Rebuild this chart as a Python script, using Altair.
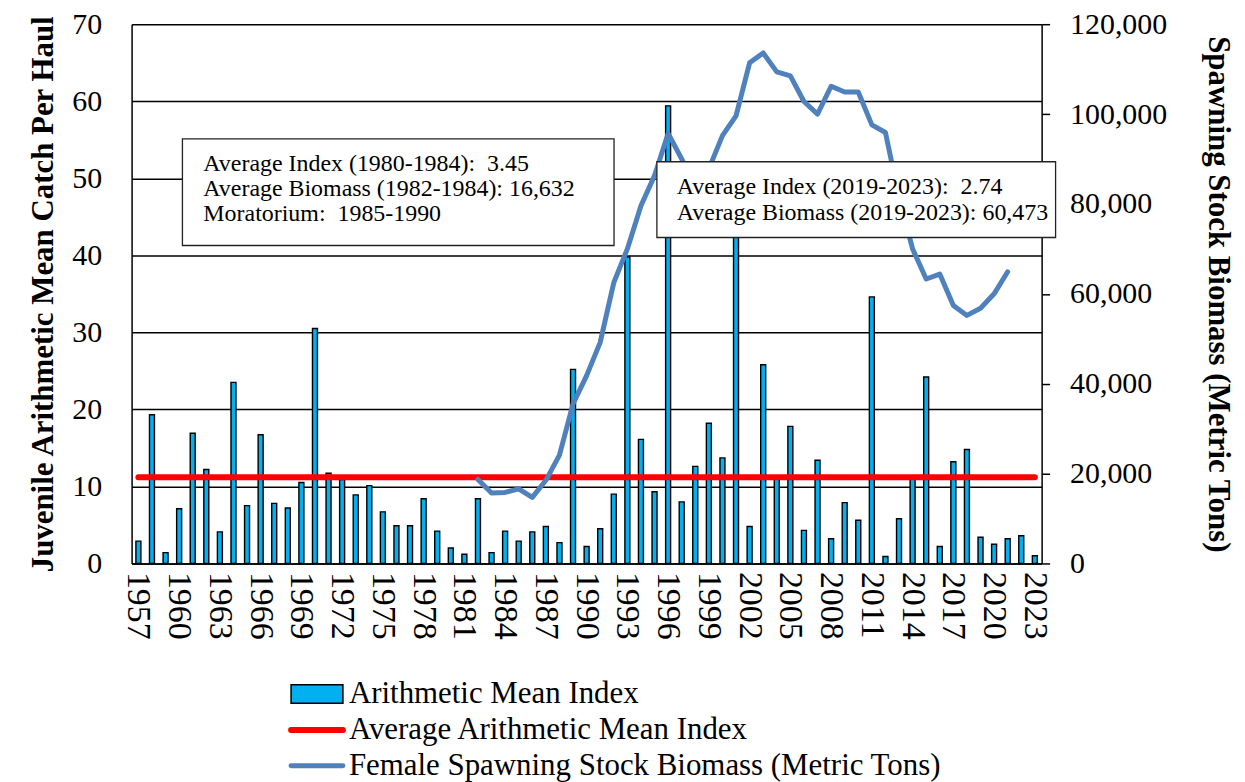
import altair as alt
import pandas as pd

# ---------------- data ----------------
years = list(range(1957, 2024))
index_values = [
    2.9, 19.3, 1.4, 7.1, 16.9, 12.2, 4.1, 23.5, 7.5, 16.7,   # 1957-1966
    7.8, 7.2, 10.5, 30.5, 11.7, 10.9, 8.9, 10.1, 6.7, 4.9,   # 1967-1976
    4.9, 8.4, 4.2, 2.0, 1.2, 8.4, 1.4, 4.2, 2.9, 4.1,        # 1977-1986
    4.8, 2.7, 25.2, 2.2, 4.5, 9.0, 39.8, 16.1, 9.3, 59.4,    # 1987-1996
    8.0, 12.6, 18.2, 13.7, 50.8, 4.8, 25.8, 11.1, 17.8, 4.3, # 1997-2006
    13.4, 3.2, 7.9, 5.6, 34.6, 0.9, 5.8, 11.0, 24.2, 2.2,    # 2007-2016
    13.2, 14.8, 3.4, 2.5, 3.2, 3.6, 1.0,                      # 2017-2023
]
avg_index = 11.2

biomass_years = list(range(1982, 2022))
biomass_values = [
    18700, 15700, 15800, 16600, 14700, 18500, 24100, 35500, 41800, 49200,   # 1982-1991
    62500, 70000, 79600, 86300, 95700, 90000, 84000, 87800, 95200, 99600,   # 1992-2001
    111400, 113600, 109400, 108500, 102800, 100000, 106200, 104900, 104900, 97600,  # 2002-2011
    95900, 81500, 70000, 63300, 64400, 57400, 55200, 56800, 60000, 64900,   # 2012-2021
]

legend_labels = [
    "Arithmetic Mean Index",
    "Average Arithmetic Mean Index",
    "Female Spawning Stock Biomass (Metric Tons)",
]
box1_lines = [
    "Average Index (1980-1984):\u00a0 3.45",
    "Average Biomass (1982-1984): 16,632",
    "Moratorium:\u00a0 1985-1990",
]
box2_lines = [
    "Average Index (2019-2023):\u00a0 2.74",
    "Average Biomass (2019-2023): 60,473",
]

# ---------------- style ----------------
FONT = "Liberation Serif"
BAR_BLUE = "#00B0F0"
LINE_BLUE = "#4F81BD"
RED = "#FF0000"
W, H = 913, 541

df_idx = pd.DataFrame({"year": years, "index": index_values,
                       "avg": [avg_index] * len(years)})
df_bio = pd.DataFrame({"year": biomass_years, "biomass": biomass_values})
df_leg = pd.DataFrame({"label": legend_labels})
df_one = pd.DataFrame({"k": [0]})

x_enc = alt.X(
    "year:O",
    scale=alt.Scale(domain=years, paddingInner=0, paddingOuter=0),
    axis=alt.Axis(values=years[::3], labelAngle=90, labelFontSize=34,
                  labelPadding=8, ticks=False, domainColor="black",
                  domainWidth=1.5, grid=False, title=None,
                  labelColor="black", labelFont=FONT),
)

bars = alt.Chart(df_idx).mark_bar(
    size=5, color=BAR_BLUE, stroke="black", strokeWidth=1.4
).encode(
    x=x_enc,
    y=alt.Y(
        "index:Q",
        scale=alt.Scale(domain=[0, 70], nice=False),
        axis=alt.Axis(values=list(range(0, 71, 10)), grid=True,
                      gridColor="black", gridWidth=1.5, ticks=False,
                      domainColor="black", domainWidth=1.5,
                      labelFontSize=30, labelPadding=30, labelColor="black",
                      labelFont=FONT,
                      title="Juvenile Arithmetic Mean Catch Per Haul",
                      titleFont=FONT, titleFontSize=31, titleFontWeight="bold",
                      titleColor="black", titlePadding=12),
    ),
)

red = alt.Chart(df_idx).mark_line(
    color=RED, strokeWidth=6, strokeCap="round"
).encode(
    x="year:O",
    y=alt.Y("avg:Q", scale=alt.Scale(domain=[0, 70], nice=False), axis=None),
)

blue = alt.Chart(df_bio).mark_line(
    color=LINE_BLUE, strokeWidth=5, strokeCap="round", strokeJoin="round"
).encode(
    x="year:O",
    y=alt.Y(
        "biomass:Q",
        scale=alt.Scale(domain=[0, 120000], nice=False),
        axis=alt.Axis(orient="right", values=list(range(0, 120001, 20000)),
                      format=",d", grid=False, tickSize=8, tickColor="black",
                      tickWidth=1.5, domainColor="black", domainWidth=1.5,
                      labelFontSize=30, labelPadding=20, labelColor="black",
                      labelFont=FONT,
                      title="Spawning Stock Biomass (Metric Tons)",
                      titleFont=FONT, titleFontSize=31, titleFontWeight="bold",
                      titleColor="black", titlePadding=35),
    ),
)

# annotation boxes
box1 = alt.Chart(df_one).mark_rect(
    fill="white", stroke="#222222", strokeWidth=1.3
).encode(x=alt.value(51), x2=alt.value(484), y=alt.value(115), y2=alt.value(222))
box1_text = alt.Chart(df_one).mark_text(
    align="left", baseline="alphabetic", fontSize=24, lineHeight=25,
    color="black", font=FONT
).encode(x=alt.value(72), y=alt.value(147), text=alt.value(box1_lines))

box2 = alt.Chart(df_one).mark_rect(
    fill="white", stroke="#222222", strokeWidth=1.3
).encode(x=alt.value(527), x2=alt.value(927), y=alt.value(138), y2=alt.value(214))
box2_text = alt.Chart(df_one).mark_text(
    align="left", baseline="alphabetic", fontSize=24, lineHeight=26,
    color="black", font=FONT
).encode(x=alt.value(547), y=alt.value(170), text=alt.value(box2_lines))

# legend (below the plot)
leg_y = alt.Y("label:N", sort=legend_labels, axis=None,
              scale=alt.Scale(type="point", domain=legend_labels,
                              range=[672, 744], padding=0))
leg_base = alt.Chart(df_leg)
leg_rect = leg_base.transform_filter(
    alt.datum.label == legend_labels[0]
).mark_point(
    shape="M-1,-0.36L1,-0.36L1,0.36L-1,0.36Z", size=2704, filled=True,
    fill=BAR_BLUE, stroke="black", strokeWidth=1.5, opacity=1
).encode(x=alt.value(186), y=leg_y)
leg_red = leg_base.transform_filter(
    alt.datum.label == legend_labels[1]
).mark_point(
    shape="M-1,0L1,0", size=2704, filled=False, stroke=RED,
    strokeWidth=6, strokeCap="round", opacity=1
).encode(x=alt.value(186), y=leg_y)
leg_blue = leg_base.transform_filter(
    alt.datum.label == legend_labels[2]
).mark_point(
    shape="M-1,0L1,0", size=2704, filled=False, stroke=LINE_BLUE,
    strokeWidth=5, strokeCap="round", opacity=1
).encode(x=alt.value(186), y=leg_y)
leg_text = leg_base.mark_text(
    align="left", baseline="middle", fontSize=31, color="black", font=FONT
).encode(x=alt.value(218), y=leg_y, text="label:N")

chart = alt.layer(
    bars, red, blue, box1, box1_text, box2, box2_text,
    leg_rect, leg_red, leg_blue, leg_text
).resolve_scale(
    y="independent"
).properties(
    width=W, height=H,
    padding={"left": 19, "top": 0, "right": 3, "bottom": 0},
).configure(
    font=FONT
).configure_view(
    stroke=None
)

chart.save("out.html", embed_options={"renderer": "svg", "actions": False})
